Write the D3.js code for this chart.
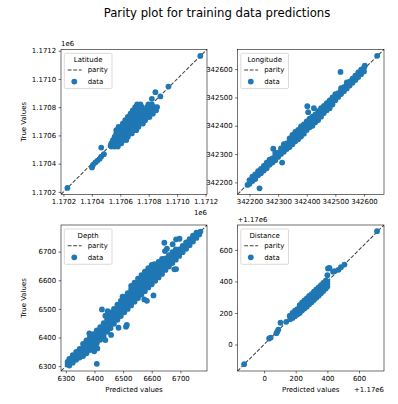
<!DOCTYPE html>
<html><head><meta charset="utf-8">
<script src="https://cdn.jsdelivr.net/npm/d3@7"></script>
<style>
body{margin:0;background:#fff}
svg{display:block}
text{font-family:"DejaVu Sans",sans-serif;fill:#000}
</style>
</head><body>
<svg id="chart" width="398" height="404"></svg>
<script>
// ---------- DATA ([predicted, true]) ----------
const panelNames = ["Latitude", "Longitude", "Depth", "Distance"];

const latitudePoints = [
[1170228,1170228],[1171163,1171163],[1170939,1170946],[1170847,1170906],[1170882,1170876],[1170822,1170859],
[1170401,1170373],[1170408,1170392],[1170424,1170408],[1170438,1170420],[1170455,1170434],[1170466,1170450],[1170485,1170467],[1170466,1170514],[1170532,1170528],[1170541,1170544],
[1170537,1170521],[1170560,1170521],[1170583,1170521],
[1170537,1170544],[1170560,1170544],[1170583,1170544],[1170607,1170544],
[1170548,1170567],[1170572,1170567],[1170595,1170567],[1170618,1170567],[1170642,1170567],
[1170560,1170590],[1170583,1170590],[1170607,1170590],[1170630,1170590],[1170653,1170590],
[1170572,1170614],[1170595,1170614],[1170618,1170614],[1170642,1170614],[1170665,1170614],[1170681,1170614],
[1170572,1170637],[1170595,1170637],[1170618,1170637],[1170642,1170637],[1170665,1170637],[1170688,1170637],[1170712,1170637],
[1170588,1170661],[1170611,1170661],[1170635,1170661],[1170658,1170661],[1170681,1170661],[1170705,1170661],[1170728,1170661],
[1170618,1170684],[1170642,1170684],[1170665,1170684],[1170688,1170684],[1170712,1170684],[1170735,1170684],[1170759,1170684],
[1170635,1170708],[1170658,1170708],[1170681,1170708],[1170705,1170708],[1170728,1170708],[1170752,1170708],[1170775,1170708],
[1170653,1170731],[1170677,1170731],[1170700,1170731],[1170724,1170731],[1170747,1170731],[1170770,1170731],[1170794,1170731],[1170805,1170731],
[1170672,1170754],[1170695,1170754],[1170719,1170754],[1170742,1170754],[1170766,1170754],[1170789,1170754],[1170812,1170754],[1170829,1170754],
[1170688,1170778],[1170712,1170778],[1170735,1170778],[1170759,1170778],[1170782,1170778],[1170805,1170778],[1170829,1170778],[1170852,1170778],
[1170705,1170801],[1170728,1170801],[1170752,1170801],[1170789,1170801],[1170812,1170801],[1170840,1170801],[1170859,1170801],
[1170719,1170820],[1170742,1170820],[1170798,1170820],[1170822,1170820]
];

const longitudePoints = [
[342646,342647],[342518,342590],[342235,342179],[342193,342191],[342402,342469],[342405,342448],[342425,342462],[342314,342270],[342283,342319],
[342200,342195],[342200,342208],[342210,342205],[342210,342220],[342220,342212],[342220,342228],
[342230,342225],[342230,342240],[342240,342232],[342240,342248],[342250,342242],[342250,342258],
[342260,342250],[342260,342262],[342260,342270],[342270,342262],[342270,342280],[342280,342270],[342280,342285],
[342290,342278],[342290,342295],[342290,342305],[342300,342290],[342300,342305],[342310,342300],[342310,342320],
[342320,342308],[342320,342322],[342320,342335],[342330,342318],[342330,342338],
[342340,342325],[342340,342345],[342340,342355],[342350,342335],[342350,342352],[342350,342368],
[342360,342345],[342360,342362],[342360,342378],[342370,342352],[342370,342370],[342370,342385],
[342380,342362],[342380,342380],[342380,342398],[342390,342372],[342390,342390],[342390,342405],
[342400,342385],[342400,342400],[342400,342415],[342410,342395],[342410,342412],[342410,342425],
[342420,342400],[342420,342420],[342420,342432],[342430,342412],[342430,342428],[342430,342440],
[342440,342420],[342440,342438],[342440,342452],[342450,342432],[342450,342448],[342450,342462],
[342460,342445],[342460,342460],[342460,342470],[342470,342455],[342470,342468],[342470,342480],
[342480,342462],[342480,342478],[342480,342490],[342490,342475],[342490,342490],[342490,342500],
[342500,342490],[342500,342502],[342500,342512],[342510,342502],[342510,342515],
[342520,342512],[342520,342525],[342520,342533],[342530,342522],[342530,342536],
[342540,342532],[342540,342545],[342540,342553],[342550,342542],[342550,342556],
[342560,342552],[342560,342566],[342570,342562],[342570,342577],[342580,342572],[342580,342588],
[342590,342582],[342590,342598],[342600,342592],[342600,342605],[342603,342612]
];

const depthPoints = [
[6306,6306],[6306,6315],
[6312,6302],[6312,6315],[6312,6325],
[6324,6312],[6324,6325],[6324,6338],
[6336,6322],[6336,6335],[6336,6350],
[6348,6330],[6348,6345],[6348,6360],
[6360,6335],[6360,6350],[6360,6365],[6360,6378],
[6372,6345],[6372,6360],[6372,6375],[6372,6390],
[6384,6356],[6384,6370],[6384,6385],[6384,6400],
[6396,6368],[6396,6382],[6396,6396],[6396,6412],
[6408,6380],[6408,6395],[6408,6410],[6408,6425],
[6420,6392],[6420,6406],[6420,6420],[6420,6436],
[6432,6405],[6432,6418],[6432,6432],[6432,6450],
[6444,6420],[6444,6432],[6444,6446],[6444,6462],[6444,6478],
[6456,6432],[6456,6446],[6456,6460],[6456,6475],[6456,6488],
[6468,6448],[6468,6460],[6468,6474],[6468,6488],[6468,6500],
[6480,6462],[6480,6475],[6480,6488],[6480,6502],[6480,6515],
[6492,6475],[6492,6488],[6492,6500],[6492,6515],[6492,6528],
[6504,6488],[6504,6500],[6504,6514],[6504,6528],[6504,6542],
[6516,6500],[6516,6512],[6516,6526],[6516,6540],[6516,6555],
[6528,6512],[6528,6525],[6528,6540],[6528,6554],[6528,6568],[6528,6580],
[6540,6525],[6540,6538],[6540,6552],[6540,6566],[6540,6580],[6540,6592],
[6552,6538],[6552,6550],[6552,6565],[6552,6580],[6552,6594],[6552,6606],
[6564,6550],[6564,6562],[6564,6576],[6564,6590],[6564,6605],[6564,6618],
[6576,6562],[6576,6575],[6576,6590],[6576,6604],[6576,6618],[6576,6630],
[6588,6575],[6588,6588],[6588,6602],[6588,6616],[6588,6630],[6588,6642],
[6600,6586],[6600,6600],[6600,6614],[6600,6628],[6600,6642],[6600,6654],
[6612,6598],[6612,6612],[6612,6626],[6612,6640],[6612,6654],
[6624,6610],[6624,6624],[6624,6638],[6624,6652],[6624,6664],
[6636,6622],[6636,6636],[6636,6650],[6636,6664],[6636,6675],
[6648,6636],[6648,6650],[6648,6662],[6648,6676],
[6660,6648],[6660,6660],[6660,6674],[6660,6688],
[6672,6660],[6672,6672],[6672,6686],[6672,6698],
[6684,6672],[6684,6684],[6684,6697],[6684,6708],
[6696,6685],[6696,6696],[6696,6708],
[6708,6698],[6708,6710],[6708,6720],
[6720,6710],[6720,6722],[6720,6732],
[6732,6722],[6732,6734],[6732,6744],
[6744,6735],[6744,6746],[6744,6756],
[6756,6748],[6756,6758],[6756,6766],
[6766,6760],[6770,6770],
[6408,6308],[6399,6352],[6410,6362],[6438,6391],[6382,6414],[6426,6498],[6446,6492],[6438,6476],
[6498,6543],[6574,6533],[6583,6528],[6606,6547],[6458,6409],[6484,6434],[6510,6438],[6513,6444],
[6679,6638],[6685,6639],[6644,6731],[6673,6726],[6685,6743],[6697,6745],[6653,6710],[6646,6702],
[6609,6656],[6632,6665],[6539,6578]
];

const distancePoints = [
[1169874,1169875],[1170714,1170719],
[1170032,1170038],[1170042,1170044],
[1170078,1170072],[1170084,1170082],[1170090,1170095],
[1170104,1170138],[1170140,1170144],[1170162,1170182],
[1170404,1170482],[1170413,1170486],[1170400,1170440],[1170436,1170462],[1170446,1170466],
[1170470,1170474],[1170486,1170490],[1170508,1170507],
[1170165,1170160],[1170165,1170180],
[1170180,1170168],[1170180,1170185],[1170180,1170200],
[1170195,1170180],[1170195,1170198],[1170195,1170215],
[1170210,1170190],[1170210,1170208],[1170210,1170225],
[1170225,1170200],[1170225,1170218],[1170225,1170235],[1170225,1170250],
[1170240,1170215],[1170240,1170232],[1170240,1170250],[1170240,1170265],
[1170255,1170228],[1170255,1170245],[1170255,1170262],[1170255,1170280],
[1170270,1170240],[1170270,1170258],[1170270,1170275],[1170270,1170292],
[1170285,1170255],[1170285,1170272],[1170285,1170290],[1170285,1170308],
[1170300,1170268],[1170300,1170285],[1170300,1170302],[1170300,1170320],
[1170315,1170282],[1170315,1170300],[1170315,1170318],[1170315,1170335],
[1170330,1170296],[1170330,1170314],[1170330,1170332],[1170330,1170350],
[1170345,1170310],[1170345,1170328],[1170345,1170345],[1170345,1170362],
[1170360,1170325],[1170360,1170342],[1170360,1170360],[1170360,1170376],
[1170375,1170340],[1170375,1170358],[1170375,1170375],[1170375,1170390],
[1170390,1170355],[1170390,1170372],[1170390,1170390],[1170390,1170405],
[1170400,1170368],[1170400,1170385],[1170400,1170400]
];

// axis limits (same for predicted and true) and tick values
const latitudeLimits = [1170183, 1171210];
const longitudeLimits = [342158, 342670];
const depthLimits = [6283, 6793];
const distanceLimits = [1169832, 1170758];

const latitudeTicks = [1170200, 1170400, 1170600, 1170800, 1171000, 1171200];
const longitudeTicks = [342200, 342300, 342400, 342500, 342600];
const depthTicks = [6300, 6400, 6500, 6600, 6700];
const distanceTicks = [1170000, 1170200, 1170400, 1170600];

const titleText = "Parity plot for training data predictions";
const xLabel = "Predicted values";
const yLabel = "True Values";
const legendLabels = ["parity", "data"];

// ---------- DRAWING ----------
const svg = d3.select("#chart");
const FS = 6.94;
const R = 2.9;
const dotColor = "#1f77b4";

const panels = [
  {name: panelNames[0], pts: latitudePoints, lim: latitudeLimits, ticks: latitudeTicks,
   fmt: v => (v / 1e6).toFixed(4), x0: 61, y0: 49.3, w: 146, h: 145, xl: false, yl: true, offX: "1e6", offY: "1e6"},
  {name: panelNames[1], pts: longitudePoints, lim: longitudeLimits, ticks: longitudeTicks,
   fmt: v => String(v), x0: 237.5, y0: 49.3, w: 146.5, h: 145, xl: false, yl: false},
  {name: panelNames[2], pts: depthPoints, lim: depthLimits, ticks: depthTicks,
   fmt: v => String(v), x0: 61, y0: 225, w: 146, h: 146, xl: true, yl: true},
  {name: panelNames[3], pts: distancePoints, lim: distanceLimits, ticks: distanceTicks,
   fmt: v => String(v - 1170000), x0: 237.5, y0: 225, w: 146.5, h: 146, xl: true, yl: false, offX: "+1.17e6", offY: "+1.17e6"}
];

svg.append("text").attr("x", 217).attr("y", 17).attr("text-anchor", "middle")
  .style("font-size", "11.7px").text(titleText);

panels.forEach((p, i) => {
  const x = d3.scaleLinear().domain(p.lim).range([p.x0, p.x0 + p.w]);
  const y = d3.scaleLinear().domain(p.lim).range([p.y0 + p.h, p.y0]);
  const g = svg.append("g");
  const clipId = "clip" + i;
  svg.append("clipPath").attr("id", clipId).append("rect")
    .attr("x", p.x0).attr("y", p.y0).attr("width", p.w).attr("height", p.h);

  const plot = g.append("g").attr("clip-path", `url(#${clipId})`);
  plot.append("line")
    .attr("x1", x(p.lim[0])).attr("y1", y(p.lim[0]))
    .attr("x2", x(p.lim[1])).attr("y2", y(p.lim[1]))
    .attr("stroke", "#000").attr("stroke-opacity", 0.75).attr("stroke-width", 1.04)
    .attr("stroke-dasharray", "3.85,1.67");
  plot.selectAll("circle").data(p.pts).enter().append("circle")
    .attr("cx", d => x(d[0])).attr("cy", d => y(d[1])).attr("r", R)
    .attr("fill", dotColor);

  const ax = d3.axisBottom(x).tickValues(p.ticks).tickFormat(p.fmt).tickSize(2.43).tickPadding(2.43);
  const ay = d3.axisLeft(y).tickValues(p.ticks).tickFormat(p.fmt).tickSize(2.43).tickPadding(2.43);
  const gx = g.append("g").attr("transform", `translate(0,${p.y0 + p.h})`).call(ax);
  const gy = g.append("g").attr("transform", `translate(${p.x0},0)`).call(ay);
  [gx, gy].forEach(a => {
    a.select(".domain").remove();
    a.selectAll("line").attr("stroke", "#000").attr("stroke-width", 0.56);
    a.selectAll("text").attr("fill", "#000").style("font-size", FS + "px").style("font-family", '"DejaVu Sans",sans-serif');
  });
  g.append("rect").attr("x", p.x0).attr("y", p.y0).attr("width", p.w).attr("height", p.h)
    .attr("fill", "none").attr("stroke", "#000").attr("stroke-width", 0.56);

  if (p.offY) g.append("text").attr("x", p.x0).attr("y", p.y0 - 3).style("font-size", FS + "px").text(p.offY);
  if (p.offX) g.append("text").attr("x", p.x0 + p.w).attr("y", p.y0 + p.h + 21).attr("text-anchor", "end")
    .style("font-size", FS + "px").text(p.offX);
  if (p.xl) g.append("text").attr("x", p.x0 + p.w / 2).attr("y", p.y0 + p.h + 21).attr("text-anchor", "middle")
    .style("font-size", FS + "px").text(xLabel);
  if (p.yl) g.append("text").attr("transform", `translate(26,${p.y0 + p.h / 2}) rotate(-90)`)
    .attr("text-anchor", "middle").style("font-size", FS + "px").text(yLabel);

  const lx = p.x0 + 3.3, ly = p.y0 + 4, lw = 47.7, lh = 35.3;
  const lg = g.append("g");
  lg.append("rect").attr("x", lx).attr("y", ly).attr("width", lw).attr("height", lh).attr("rx", 1.4)
    .attr("fill", "#fff").attr("fill-opacity", 0.8).attr("stroke", "#ccc").attr("stroke-width", 0.7);
  lg.append("text").attr("x", lx + lw / 2).attr("y", ly + 8.5).attr("text-anchor", "middle")
    .style("font-size", FS + "px").text(p.name);
  lg.append("line").attr("x1", lx + 3.4).attr("x2", lx + 17.4).attr("y1", ly + 16.7).attr("y2", ly + 16.7)
    .attr("stroke", "#000").attr("stroke-opacity", 0.75).attr("stroke-width", 1.04).attr("stroke-dasharray", "3.85,1.67");
  lg.append("text").attr("x", lx + 23.4).attr("y", ly + 19).style("font-size", FS + "px").text(legendLabels[0]);
  lg.append("circle").attr("cx", lx + 10).attr("cy", ly + 28.3).attr("r", R).attr("fill", dotColor);
  lg.append("text").attr("x", lx + 23.4).attr("y", ly + 30.7).style("font-size", FS + "px").text(legendLabels[1]);
});
</script>
</body></html>
